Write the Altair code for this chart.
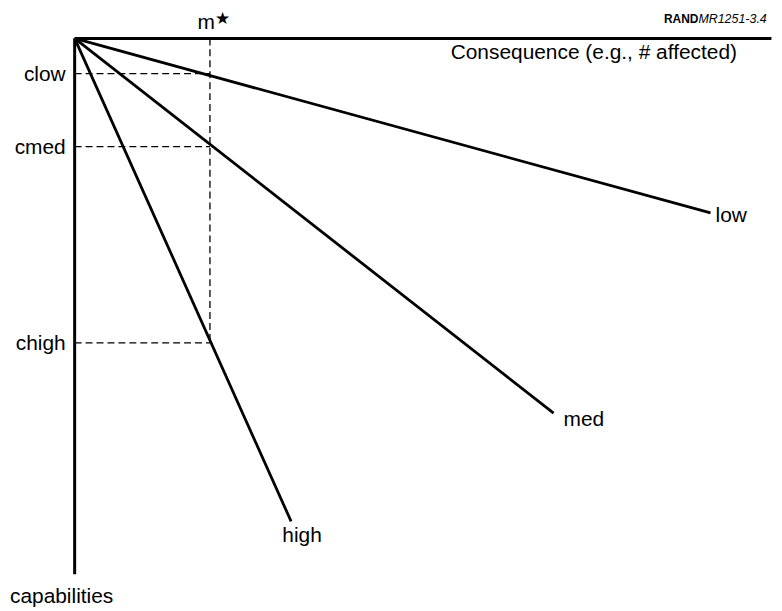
import altair as alt
import pandas as pd

# ---- data (consequence m on x, capability c downward on y) ----
series = ["low", "med", "high"]
end_m = [4.70, 3.54, 1.60]          # line end, consequence units
end_c = [1.29, 2.77, 3.57]          # line end, capability units
c_labels = ["clow", "cmed", "chigh"]
c_values = [0.26, 0.80, 2.25]
m_star = 1.0
axis_m_end = 5.15
axis_c_end = 3.96

# ---- layout ----
W, H = 770, 603
PX = 136.0          # pixels per unit
OX, OY = 67, 29     # origin inside plot area (pixels)
FONT = "Liberation Sans"

xs = alt.Scale(domain=[-OX / PX, (W - OX) / PX], nice=False, zero=False)
ys = alt.Scale(domain=[-OY / PX, (H - OY) / PX], nice=False, zero=False, reverse=True)

def X(f):
    return alt.X(f, type="quantitative", scale=xs, axis=None)

def Y(f):
    return alt.Y(f, type="quantitative", scale=ys, axis=None)

lines_df = pd.DataFrame({"s": series, "x0": [0.0] * 3, "y0": [0.0] * 3, "x1": end_m, "y1": end_c})
axes_df = pd.DataFrame({"x0": [0.0, 0.0], "y0": [0.0, 0.0], "x1": [axis_m_end, 0.0], "y1": [0.0, axis_c_end]})
hdash_df = pd.DataFrame({"lab": c_labels, "c": c_values, "x0": [0.0] * 3, "x1": [m_star] * 3})
vdash_df = pd.DataFrame({"m": [m_star], "y0": [0.0], "y1": [max(c_values)]})

axes = alt.Chart(axes_df).mark_rule(color="black", strokeWidth=3).encode(
    x=X("x0"), y=Y("y0"), x2="x1", y2="y1")
lines = alt.Chart(lines_df).mark_rule(color="black", strokeWidth=2.8).encode(
    x=X("x0"), y=Y("y0"), x2="x1", y2="y1")
hdash = alt.Chart(hdash_df).mark_rule(color="black", strokeWidth=1.3, strokeDash=[7, 4]).encode(
    x=X("x0"), x2="x1", y=Y("c"))
vdash = alt.Chart(vdash_df).mark_rule(color="black", strokeWidth=1.3, strokeDash=[7, 4]).encode(
    x=X("m"), y=Y("y0"), y2="y1")

clabels = alt.Chart(hdash_df).mark_text(
    align="right", baseline="alphabetic", dx=-9, dy=7, fontSize=21, font=FONT, color="black"
).encode(x=alt.datum(0.0, type="quantitative", scale=xs, axis=None), y=Y("c"), text="lab:N")

end_df = pd.DataFrame({"s": series, "x": end_m, "y": end_c})
low_lab = alt.Chart(end_df[end_df.s == "low"]).mark_text(
    align="left", baseline="alphabetic", dx=5, dy=9, fontSize=21, font=FONT, color="black"
).encode(x=X("x"), y=Y("y"), text="s:N")
med_lab = alt.Chart(end_df[end_df.s == "med"]).mark_text(
    align="left", baseline="alphabetic", dx=10, dy=13, fontSize=21, font=FONT, color="black"
).encode(x=X("x"), y=Y("y"), text="s:N")
high_lab = alt.Chart(end_df[end_df.s == "high"]).mark_text(
    align="center", baseline="alphabetic", dx=11, dy=21, fontSize=21, font=FONT, color="black"
).encode(x=X("x"), y=Y("y"), text="s:N")

mstar_df = pd.DataFrame({"m": [m_star], "y": [0.0]})
m_lab = alt.Chart(mstar_df).mark_text(
    align="right", baseline="alphabetic", dx=5, dy=-9, fontSize=21, font=FONT, color="black", text="m"
).encode(x=X("m"), y=Y("y"))
star_lab = alt.Chart(mstar_df).mark_text(
    align="left", baseline="alphabetic", dx=5, dy=-14, fontSize=17, font="DejaVu Sans", color="black", text="★"
).encode(x=X("m"), y=Y("y"))

cons_lab = alt.Chart(mstar_df).mark_text(
    align="left", baseline="alphabetic", fontSize=21, font=FONT, color="black",
    text="Consequence (e.g., # affected)"
).encode(x=alt.value(445), y=alt.value(50))
cap_lab = alt.Chart(mstar_df).mark_text(
    align="left", baseline="alphabetic", fontSize=21, font=FONT, color="black", text="capabilities"
).encode(x=alt.value(2), y=alt.value(597))
rand_lab = alt.Chart(mstar_df).mark_text(
    align="right", baseline="alphabetic", fontSize=12, font=FONT, fontWeight="bold", color="black", text="RAND"
).encode(x=alt.value(694), y=alt.value(14))
mr_lab = alt.Chart(mstar_df).mark_text(
    align="left", baseline="alphabetic", fontSize=12.5, font=FONT, fontStyle="italic", color="black", text="MR1251-3.4"
).encode(x=alt.value(694), y=alt.value(14))

chart = alt.layer(
    hdash, vdash, axes, lines, clabels, low_lab, med_lab, high_lab,
    m_lab, star_lab, cons_lab, cap_lab, rand_lab, mr_lab
).properties(
    width=W, height=H, padding=0, background="white",
    autosize=alt.AutoSizeParams(type="none")
).configure_view(stroke=None)

chart.save("out.html", embed_options={"renderer": "svg", "actions": False})
